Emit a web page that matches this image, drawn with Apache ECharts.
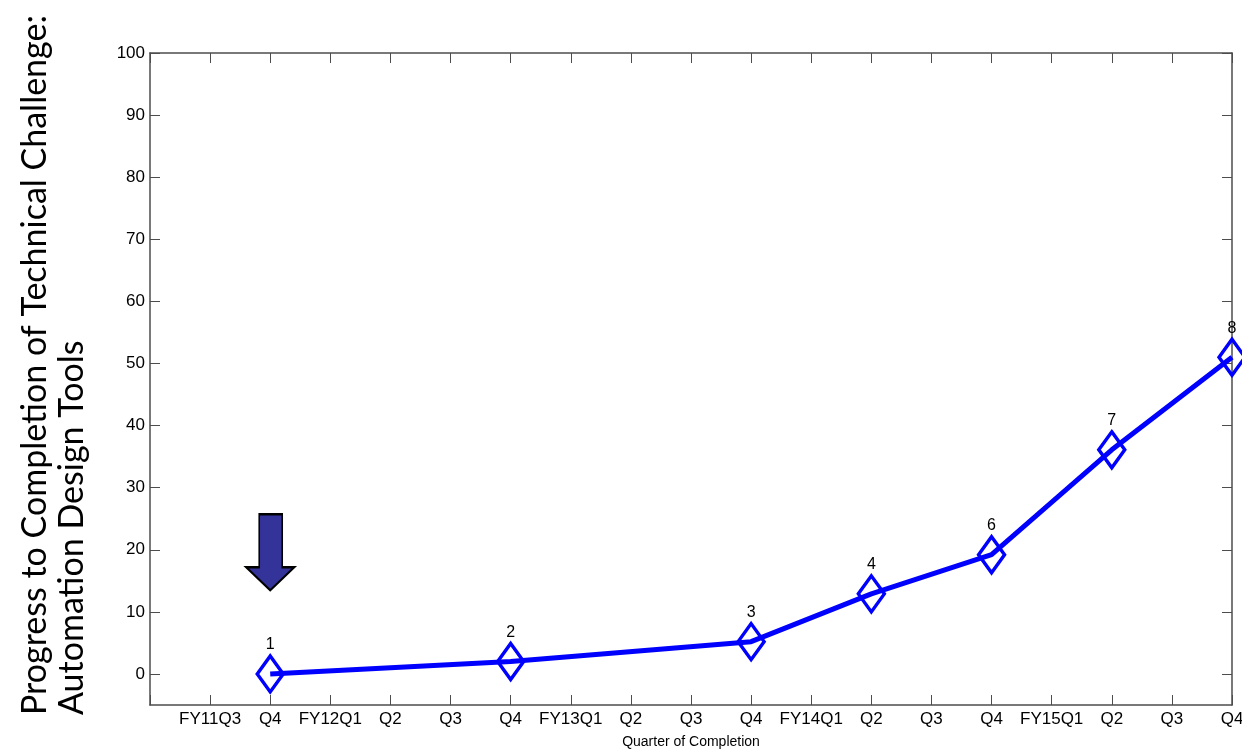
<!DOCTYPE html>
<html><head><meta charset="utf-8">
<script src="https://cdn.jsdelivr.net/npm/echarts@6/dist/echarts.min.js"></script>
<style>html,body{margin:0;padding:0;background:#fff}#c{width:1242px;height:750px}</style>
</head><body><div id="c"></div>
<script>
var tickLabels = ['', 'FY11Q3', 'Q4', 'FY12Q1', 'Q2', 'Q3', 'Q4', 'FY13Q1', 'Q2', 'Q3', 'Q4', 'FY14Q1', 'Q2', 'Q3', 'Q4', 'FY15Q1', 'Q2', 'Q3', 'Q4'];
var xPos = [2, 6, 10, 12, 14, 16, 18];
var progress = [0, 2, 5.2, 12.9, 19.2, 36.1, 51];
var pointLabels = ['1', '2', '3', '4', '6', '7', '8'];
var yTicks = [0, 10, 20, 30, 40, 50, 60, 70, 80, 90, 100];
var arrowAt = [2, 19.6];
var titleLines = ['Progress to Completion of Technical Challenge:', 'Automation Design Tools'];

var chart = echarts.init(document.getElementById('c'));
var axisCol = '#4d4d4d';
var lbl = {color: '#000', fontFamily: 'Liberation Sans, Arial', fontSize: 17};
function axisBase(extra) {
  return Object.assign({
    axisLine: {show: true, onZero: false, lineStyle: {color: axisCol, width: 1.5}},
    axisTick: {show: true, inside: true, length: 10, lineStyle: {color: axisCol}},
    splitLine: {show: false}
  }, extra);
}
chart.setOption({
  animation: false,
  grid: {left: 150, right: 10, top: 53, bottom: 45, outerBoundsMode: 'none', containLabel: false},
  xAxis: [axisBase({
    type: 'value', min: 0, max: 18, interval: 1, position: 'bottom',
    name: 'Quarter of Completion', nameLocation: 'middle', nameGap: 30,
    nameTextStyle: {color: '#000', fontFamily: 'Liberation Sans, Arial', fontSize: 14},
    axisLabel: Object.assign({margin: 6, showMinLabel: true, showMaxLabel: true,
      formatter: function (v) { return tickLabels[Math.round(v)] || ''; }}, lbl)
  }), axisBase({
    type: 'value', min: 0, max: 18, interval: 1, position: 'top',
    axisLabel: {show: false}
  })],
  yAxis: [axisBase({
    type: 'value', min: -5, max: 100, interval: 5, position: 'left',
    axisTick: {show: true, inside: true, length: 10, customValues: yTicks, lineStyle: {color: axisCol}},
    axisLabel: Object.assign({margin: 5, customValues: yTicks}, lbl)
  }), axisBase({
    type: 'value', min: -5, max: 100, interval: 5, position: 'right',
    axisTick: {show: true, inside: true, length: 10, customValues: yTicks, lineStyle: {color: axisCol}},
    axisLabel: {show: false}
  })],
  graphic: titleLines.map(function (t, i) {
    return {
      type: 'text', x: 35 + i * 37, y: 715, rotation: Math.PI / 2,
      style: {text: t, fill: '#000', font: '34px Lato, "Open Sans", sans-serif',
        align: 'left', verticalAlign: 'middle'}
    };
  }),
  series: [{
    type: 'line',
    data: xPos.map(function (x, i) { return [x, progress[i]]; }),
    symbol: 'diamond', symbolSize: [26, 36],
    lineStyle: {color: '#0000ff', width: 5},
    itemStyle: {color: 'rgba(255,255,255,0)', borderColor: '#0000ff', borderWidth: 3.5},
    label: {show: true, position: 'top', distance: 1, color: '#000',
      fontFamily: 'Liberation Sans, Arial', fontSize: 16,
      formatter: function (p) { return pointLabels[p.dataIndex]; }},
    clip: false,
    markPoint: {
      symbol: 'path://M13,0 L36,0 L36,53 L48,53 L24,76 L0,53 L13,53 Z',
      symbolSize: [48, 76], symbolKeepAspect: false,
      itemStyle: {color: '#333399', borderColor: '#000', borderWidth: 2},
      label: {show: false},
      data: [{coord: arrowAt}]
    }
  }]
});
</script></body></html>
